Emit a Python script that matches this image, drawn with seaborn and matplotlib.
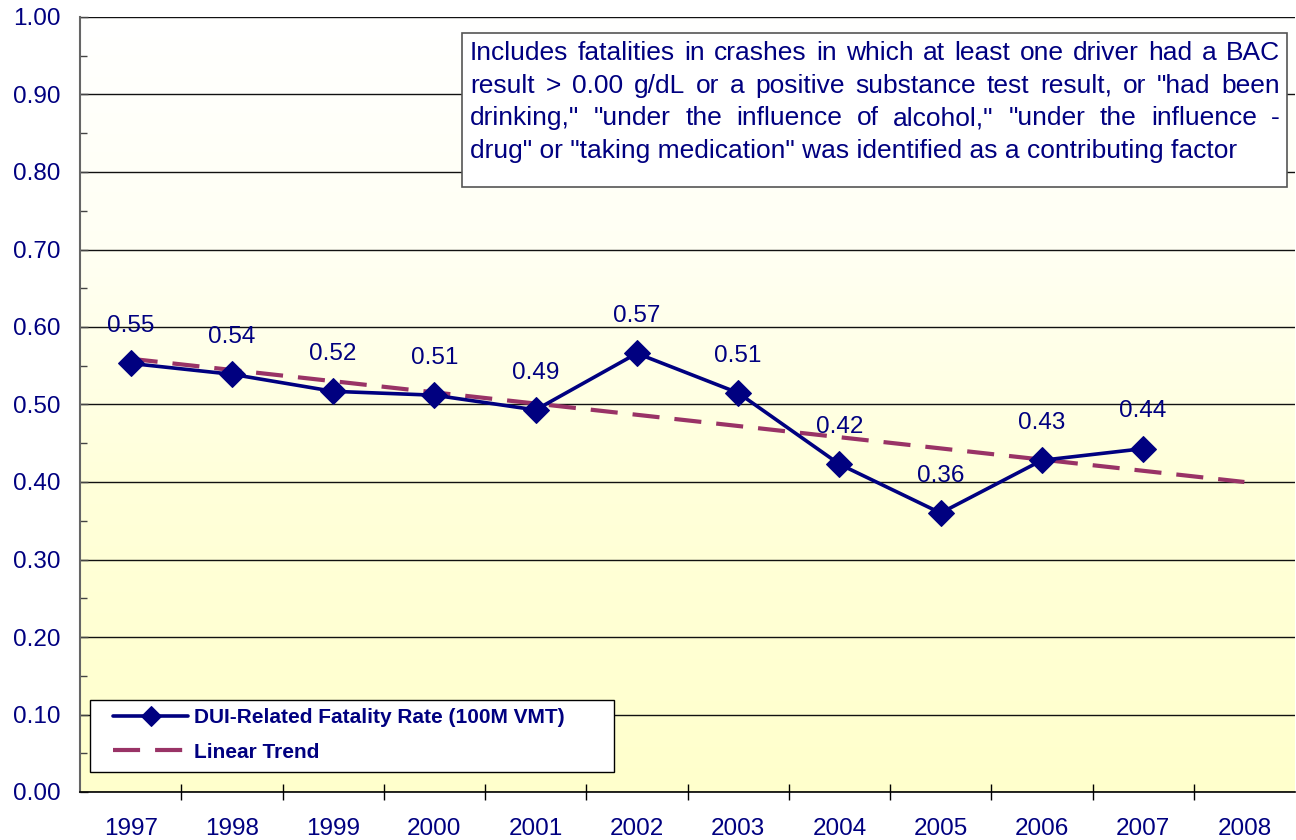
import numpy as np
import pandas as pd
import seaborn as sns
import matplotlib.pyplot as plt
from matplotlib.colors import LinearSegmentedColormap
from matplotlib.patches import Rectangle
from matplotlib.ticker import MultipleLocator

# Values
years = ['1997', '1998', '1999', '2000', '2001', '2002', '2003', '2004', '2005', '2006', '2007', '2008']
rate = [0.553, 0.539, 0.517, 0.512, 0.493, 0.566, 0.515, 0.423, 0.360, 0.428, 0.443]
rate_labels = ['0.55', '0.54', '0.52', '0.51', '0.49', '0.57', '0.51', '0.42', '0.36', '0.43', '0.44']
trend_years = ['1997', '2008']
trend_vals = [0.559, 0.400]

note_lines = [
    'Includes fatalities in crashes in which at least one driver had a BAC',
    'result > 0.00 g/dL or a positive substance test result, or "had been',
    'drinking," "under the influence of alcohol," "under the influence -',
    'drug" or "taking medication" was identified as a contributing factor',
]

navy = '#000080'
maroon = '#993366'
W, H = 1296, 840

sns.set_theme(style='white')
plt.rcParams['font.family'] = ['Liberation Sans', 'DejaVu Sans']

df = pd.DataFrame({'year': years[:len(rate)], 'rate': rate})
df['x'] = [years.index(y) for y in df['year']]
tdf = pd.DataFrame({'x': [years.index(y) for y in trend_years], 'rate': trend_vals})

fig = plt.figure(figsize=(W / 100, H / 100), dpi=100)
ax = fig.add_axes([80 / W, 1 - 792 / H, 1215 / W, 775 / H])

# gradient background: white at top -> pale yellow at bottom
cmap = LinearSegmentedColormap.from_list(
    'bg', [(0.0, '#ffffcc'), (0.4, '#ffffda'), (0.7, '#fffff3'), (1.0, '#ffffff')])
grad = np.linspace(0, 1, 256).reshape(-1, 1)
ax.imshow(grad, aspect='auto', cmap=cmap, extent=(-0.5, 11.5, 0.0, 1.0),
          origin='lower', zorder=0)

sns.lineplot(data=tdf, x='x', y='rate', ax=ax, color=maroon, lw=3,
             zorder=3, label='Linear Trend')
ax.lines[-1].set_dashes([6.5, 3.6])
sns.lineplot(data=df, x='x', y='rate', ax=ax, color=navy, lw=2.6, marker='D',
             markersize=13, markeredgecolor=navy, zorder=4,
             label='DUI-Related Fatality Rate (100M VMT)')

for x, v, lab in zip(df['x'], df['rate'], rate_labels):
    ax.annotate(lab, (x, v), xytext=(0, 22.5), textcoords='offset points',
                ha='center', va='baseline', fontsize=17.5, color=navy, zorder=5)

ax.set_xlim(-0.5, 11.5)
ax.set_ylim(0, 1.0)
ax.yaxis.set_minor_locator(MultipleLocator(0.05))
ax.set_yticks(np.round(np.arange(0, 1.01, 0.1), 2))
ax.set_yticklabels([f'{t:.2f}' for t in np.arange(0, 1.01, 0.1)])
ax.set_xticks(range(len(years)))
ax.set_xticklabels(years)
ax.set_xticks(np.arange(0.5, 11.5, 1), minor=True)
ax.tick_params(axis='x', which='major', length=0, pad=19, labelsize=17.5, labelcolor=navy)
ax.tick_params(axis='x', which='minor', length=11, width=1, color='black', direction='inout')
ax.tick_params(axis='y', which='major', length=6, width=1, color='#444444', labelsize=17.5,
               labelcolor=navy, pad=14, direction='in')
ax.tick_params(axis='y', which='minor', length=5, width=1, color='#444444', direction='in')
ax.tick_params(axis='y', which='both', left=True)
ax.xaxis.set_tick_params(which='minor', bottom=True)
ax.grid(axis='y', which='major', color='#111111', lw=1)
ax.set_axisbelow(True)
for s in ['top', 'right']:
    ax.spines[s].set_visible(False)
ax.spines['left'].set_color('#666666')
ax.spines['left'].set_linewidth(1.5)
ax.spines['bottom'].set_color('black')
ax.spines['bottom'].set_linewidth(1.2)
ax.set_xlabel('')
ax.set_ylabel('')

# legend: frame drawn separately to match the reference box size
ax.add_patch(Rectangle((10 / 1215, 20 / 775), 524 / 1215, 72 / 775, transform=ax.transAxes,
                       fc='white', ec='black', lw=1, zorder=6))
h, l = ax.get_legend_handles_labels()
leg = ax.legend(h[::-1], l[::-1], loc='center left', bbox_to_anchor=(33 / 1215, 57 / 775),
                borderaxespad=0, borderpad=0, frameon=False,
                prop={'weight': 'bold', 'size': 15}, labelcolor=navy,
                handlelength=3.6, handletextpad=0.3, labelspacing=0.74)
leg.legend_handles[0].set_markersize(10)
leg.set_zorder(7)

# note box (pixel layout of the reference)
bx0, bx1, by0, by1 = 462, 1287, 33, 187
fig.patches.append(Rectangle((bx0 / W, 1 - by1 / H), (bx1 - bx0) / W, (by1 - by0) / H,
                             transform=fig.transFigure, fc='white', ec='#555555',
                             lw=1.2, zorder=7))
fig.canvas.draw()
renderer = fig.canvas.get_renderer()
left, right = 470, 1280
for i, line in enumerate(note_lines):
    y = 1 - (53 + i * 32.7) / H
    words = line.split(' ')
    if i == len(note_lines) - 1:
        fig.text(left / W, y, line, ha='left', va='center', fontsize=19, color=navy, zorder=8)
        continue
    texts = [fig.text(0, y, w, ha='left', va='center', fontsize=19, color=navy, zorder=8)
             for w in words]
    widths = [t.get_window_extent(renderer).width for t in texts]
    gap = (right - left - sum(widths)) / (len(words) - 1)
    x = left
    for t, w in zip(texts, widths):
        t.set_x(x / W)
        x += w + gap

fig.savefig('out.png', dpi=100)
